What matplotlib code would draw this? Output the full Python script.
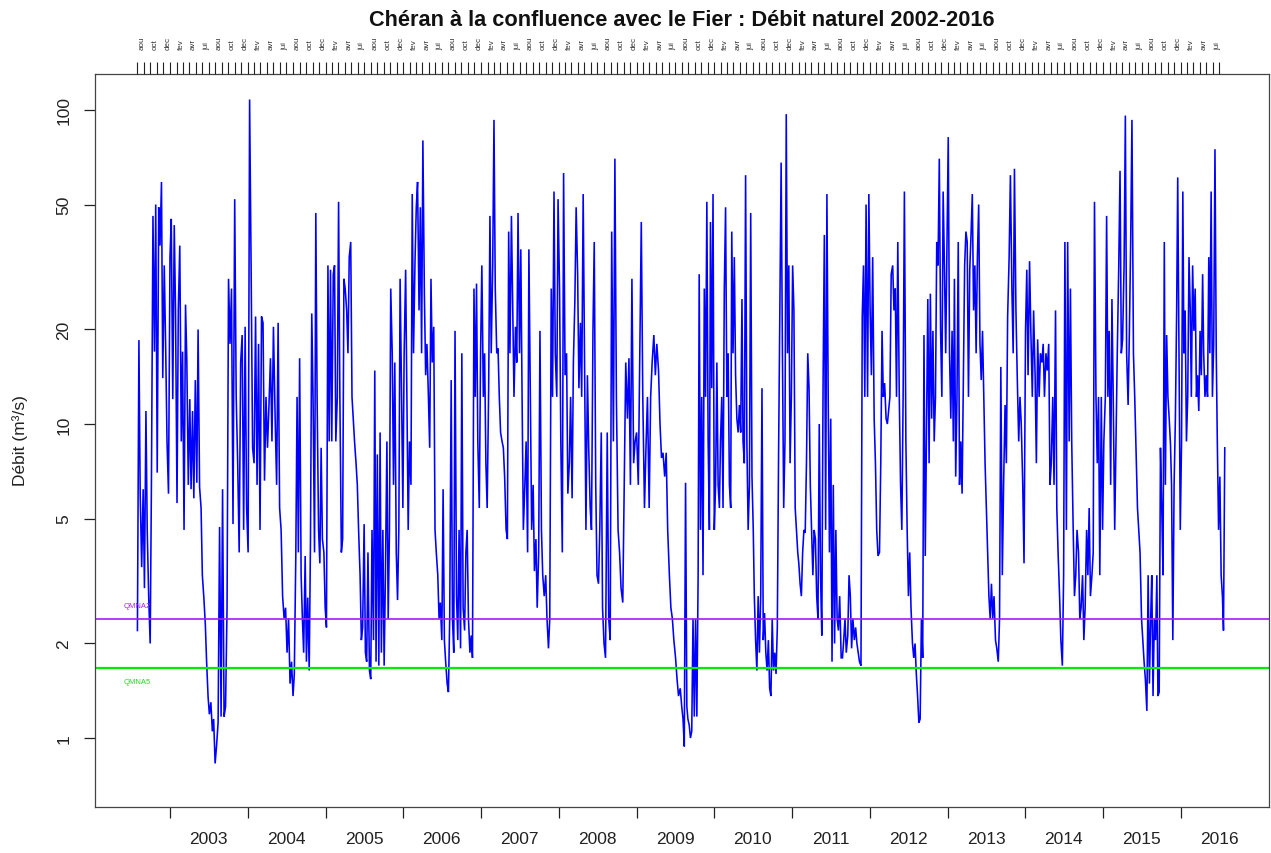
import numpy as np
import matplotlib
matplotlib.use("Agg")
import matplotlib.pyplot as plt
import matplotlib.dates as mdates

plt.rcParams['font.family'] = ['Liberation Sans', 'DejaVu Sans']

# ---------------- data ----------------
title = "Chéran à la confluence avec le Fier : Débit naturel 2002-2016"
ylabel = "Débit (m³/s)"
qmna2 = 2.39
qmna5 = 1.67
year_labels = [str(y) for y in range(2003, 2017)]
month_abbr = {8: 'aou', 10: 'oct', 12: 'dec', 2: 'fev', 4: 'avr', 6: 'jui'}
y_ticks = [1, 2, 5, 10, 20, 50, 100]

# daily flow, one list per hydrological year (Aug -> Jul)
q_2002 = [2.2, 18.5, 6.0, 3.5, 6.2, 3.0, 11.0, 4.6, 2.8, 2.0, 6.8, 46, 17, 50, 7.0, 49, 37, 59, 14, 32,
          17, 8.8, 6.0, 34, 45, 12, 43, 23, 5.6, 23, 37, 8.8, 17, 4.6, 24, 16, 6.4, 12, 6.2, 11,
          5.8, 13.8, 6.5, 20, 6.3, 5.4, 3.3, 2.8, 2.3, 1.75, 1.35, 1.19, 1.3, 1.05, 1.15]
q_2003 = [0.83, 0.95, 1.12, 4.7, 1.17, 6.2, 1.17, 1.26, 2.6, 29, 18, 27, 4.8, 52, 12.2, 7.5, 3.9, 15.7,
          19.2, 4.6, 20.4, 5.4, 3.9, 108, 32, 8.4, 7.5, 22, 6.4, 18, 4.6, 22, 21, 6.6, 12.2, 8.4, 11.5,
          16.2, 8.8, 20.4, 10.4, 6.4, 21, 5.4, 4.6, 2.83, 2.41, 2.6, 1.87, 2.41, 1.49, 1.75]
q_2004 = [1.36, 1.6, 3.8, 12.2, 3.9, 16.2, 3.3, 2.4, 1.87, 3.8, 1.75, 2.8, 1.64, 4.3, 22.5, 12.2, 3.9,
          47, 12.2, 4.6, 3.6, 8.4, 4.3, 3.9, 2.6, 2.25, 32, 8.8, 31, 8.8, 30, 32, 8.8, 12.2, 51, 12.2,
          3.9, 4.3, 29, 27, 23, 16.8, 34, 38, 12.2, 10.4, 8.8, 7.5, 6.4, 4.6, 3.3, 2.05, 2.25, 4.8,
          1.87, 1.75, 3.9, 1.64]
q_2005 = [1.54, 4.6, 2.05, 14.8, 1.75, 8.0, 1.7, 9.4, 1.87, 4.6, 1.7, 3.3, 8.8, 2.4, 4.6, 27, 16.8,
          6.4, 15.7, 3.9, 2.75, 4.6, 29, 12.2, 5.4, 16.8, 31, 12.2, 4.6, 8.8, 6.4, 54, 16.8, 33, 49, 59,
          23, 49, 16.8, 80, 26, 14.3, 18, 12.2, 8.4, 29, 15.7, 20.4, 4.6, 3.9, 3.3, 2.4, 2.7, 2.05,
          6.2, 2.05, 1.75, 1.49]
q_2006 = [1.4, 2.4, 13.8, 2.4, 1.87, 19.8, 2.83, 2.05, 4.6, 1.93, 16.8, 2.6, 2.2, 3.9, 4.6, 2.4, 1.87,
          2.12, 1.8, 27, 12.2, 28, 8.8, 5.4, 16.8, 32, 12.2, 16.8, 7.5, 5.4, 13, 46, 16.8, 32, 93, 27,
          16.8, 17.4, 12.2, 9.4, 8.8, 8.4, 6.8, 4.6, 4.3, 41, 16.8, 46, 23, 12.2, 20.4, 15.7, 47, 16.8,
          36, 12.2, 4.6, 6.4]
q_2007 = [8.8, 3.9, 36, 12.2, 4.6, 6.4, 3.4, 4.3, 2.6, 3.9, 19.8, 4.6, 3.3, 2.83, 3.3, 2.4, 1.93, 2.4,
          27, 12.2, 55, 16.8, 12.2, 52, 27, 8.8, 3.9, 63, 14.3, 16.8, 6.0, 7.5, 12.2, 5.8, 15.7, 24.8,
          49, 30, 13, 21, 12.2, 54, 16.8, 4.6, 14.3, 8.4, 5.4, 4.6, 19.8, 38, 6.4, 3.3, 3.1, 4.6, 9.4,
          2.6]
q_2008 = [2.0, 1.8, 9.4, 2.4, 2.05, 41, 8.8, 70, 12.2, 4.6, 3.9, 3.0, 2.7, 6.4, 15.7, 10.4, 16.2, 6.4,
          29, 7.5, 8.8, 9.4, 6.4, 16.8, 44, 12.2, 5.4, 8.4, 12.2, 5.4, 12.2, 15.7, 19.2, 14.3, 18, 14.8,
          10, 7.8, 8.1, 6.8, 8.1, 4.6, 3.3, 2.6, 2.4, 2.05, 1.8, 1.54, 1.36, 1.44]
q_2009 = [1.26, 1.15, 0.94, 6.5, 1.26, 1.15, 1.1, 1.0, 1.05, 2.4, 1.17, 2.4, 1.17, 3.3, 30, 4.6, 12.2,
          3.3, 27, 12.2, 51, 8.8, 4.6, 44, 13, 54, 4.6, 6.4, 15.7, 6.4, 5.4, 8.8, 12.2, 5.4, 27, 49,
          12.2, 16.8, 6.4, 5.4, 41, 16.8, 34, 14.3, 10.4, 9.4, 11.5, 9.4, 25, 8.8, 7.5, 62, 8.8, 4.6,
          6.4, 47, 6.8, 4.6, 2.83, 2.05, 1.64, 2.83]
q_2010 = [1.87, 2.83, 13, 2.05, 2.5, 1.87, 1.64, 2.05, 1.44, 1.36, 2.4, 1.64, 1.87, 1.6, 2.25, 8.1, 23,
          68, 16.8, 5.4, 8.8, 97, 16.8, 32, 7.5, 12.2, 32, 23, 5.4, 4.6, 3.9, 3.6, 3.1, 2.83, 3.9, 4.6,
          4.5, 7.5, 16.8, 13, 6.4, 4.6, 3.3, 4.6, 4.3, 2.83, 2.4, 10, 3.3, 2.12, 13.5, 40, 4.6, 54,
          12.2, 3.9, 10.4, 1.75, 6.4, 2.0, 4.6]
q_2011 = [2.4, 2.2, 2.83, 1.8, 1.8, 2.05, 2.4, 1.87, 2.12, 3.3, 2.83, 1.93, 2.4, 2.05, 2.25, 2.0, 1.87,
          1.75, 1.7, 22, 32, 12.2, 50, 12.2, 54, 23, 14.3, 34, 10.4, 7.5, 4.6, 3.8, 3.9, 7.5, 19.8,
          12.2, 13.5, 10.4, 10, 11, 12.2, 30, 32, 23, 27, 12.2, 38, 12.2, 6.4, 4.6, 12.2, 55, 8.8, 4.6,
          2.83, 3.9, 2.6, 2.0, 1.8]
q_2012 = [2.0, 1.6, 1.36, 1.12, 1.15, 2.4, 1.8, 19.2, 3.8, 10, 25, 7.5, 26, 10.4, 19.8, 8.8, 12.2, 38,
          32, 70, 19.8, 12.2, 55, 32, 16.8, 38, 82, 16.8, 10.4, 19.8, 8.8, 29, 6.8, 12.2, 38, 6.4, 8.8,
          6.0, 14.3, 32, 41, 38, 12.2, 31, 40, 54, 23, 32, 16.8, 34, 50, 18, 13.8, 19.8, 12.2, 7.5,
          5.4, 3.9, 2.83, 2.4, 3.1]
q_2013 = [2.4, 2.83, 2.05, 1.93, 1.75, 2.4, 15.2, 3.3, 6.4, 11.5, 7.5, 22, 34, 62, 27, 16.8, 65, 23,
          14.3, 8.8, 12.2, 10, 6.4, 3.6, 19.8, 31, 14.3, 33, 19.8, 12.2, 23, 14.3, 7.5, 18.6, 12.2,
          16.8, 15.7, 18, 12.2, 16.8, 14.8, 18, 6.4, 7.5, 12.2, 6.4, 23, 5.4, 3.9, 2.83, 2.05, 1.7,
          3.3, 38, 4.6, 38, 8.8]
q_2014 = [27, 8.8, 4.6, 2.83, 3.3, 4.6, 3.9, 2.4, 2.6, 3.3, 2.05, 2.6, 4.6, 3.3, 5.4, 2.83, 3.3, 3.9,
          51, 12.2, 7.5, 12.2, 3.3, 12.2, 4.6, 8.8, 12.2, 46, 12.2, 19.8, 6.4, 25, 12.2, 4.6, 8.8,
          16.8, 32, 64, 16.8, 18.6, 32, 96, 16.8, 11.5, 19.8, 38, 93, 16.8, 12.2, 8.4, 5.4, 4.6, 3.9,
          2.4, 2.05, 1.75, 1.54, 1.22]
q_2015 = [3.3, 1.49, 2.4, 3.3, 1.36, 2.4, 2.05, 3.3, 1.36, 1.4, 8.4, 5.4, 3.3, 38, 6.4, 19.2, 12.2,
          10.4, 8.6, 6.4, 2.05, 6.4, 10.4, 23, 61, 16.8, 4.6, 8.8, 55, 16.8, 23, 8.8, 12.2, 34, 23,
          12.2, 32, 19.8, 27, 12.2, 14.3, 11, 19.8, 14.3, 30, 16.8, 12.2, 14.3, 12.2, 34, 16.8, 55,
          12.2, 18, 75, 16.8, 8.8, 4.6, 6.8, 3.3, 2.83, 2.2, 8.4]

hydro_years = [2002, 2003, 2004, 2005, 2006, 2007, 2008, 2009, 2010, 2011, 2012, 2013, 2014, 2015]
yearly = [q_2002, q_2003, q_2004, q_2005, q_2006, q_2007, q_2008, q_2009, q_2010, q_2011,
          q_2012, q_2013, q_2014, q_2015]

# ---------------- build series ----------------
dates, flows = [], []
for y0, vals in zip(hydro_years, yearly):
    start = np.datetime64(f"{y0}-08-01")
    end = np.datetime64(f"{y0 + 1}-08-01")
    span = (end - start).astype(int)
    n = len(vals)
    offs = np.round(np.arange(n) * span / n).astype(int)
    dates.append(start + offs.astype('timedelta64[D]'))
    flows.extend(vals)
dates = np.concatenate(dates)
flows = np.array(flows, dtype=float)

# ---------------- figure ----------------
W, H = 1271, 854
fig = plt.figure(figsize=(W / 100, H / 100), dpi=100)
L, R, T, B = 95, 1269, 75, 808
ax = fig.add_axes([L / W, 1 - B / H, (R - L) / W, (B - T) / H])

ax.plot(dates, flows, color='#0000FF', lw=1.15, solid_joinstyle='miter')
ax.axhline(qmna2, color='#A020F0', lw=1.2)
ax.axhline(qmna5, color='#00EE00', lw=1.6)

ax.set_yscale('log')
ax.set_ylim(0.603, 130.2)
x0 = mdates.date2num(np.datetime64('2003-01-01'))
ax.set_xlim(x0 - 352.3, x0 + 5162.8)

# label texts for the reference lines
xlab = mdates.date2num(np.datetime64('2002-08-01'))
ax.text(xlab, qmna2 * 1.105, 'QMNA2', color='#A020F0', fontsize=5.5, ha='center', va='center')
ax.text(xlab, qmna5 / 1.105, 'QMNA5', color='#22DD22', fontsize=5.5, ha='center', va='center')

# y axis
ax.set_yticks(y_ticks)
ax.set_yticklabels([str(v) for v in y_ticks])
ax.yaxis.set_minor_locator(matplotlib.ticker.NullLocator())
ax.tick_params(axis='y', which='major', length=8, width=0.9, pad=9, labelsize=12.5,
               labelrotation=90, colors='#222222')
for lab in ax.get_yticklabels():
    lab.set_va('center')

# bottom x axis: ticks at year starts, labels at mid-year
year_ticks = [mdates.date2num(np.datetime64(f"{y}-01-01")) for y in range(2003, 2017)]
mid_ticks = [mdates.date2num(np.datetime64(f"{y}-07-01")) for y in range(2003, 2017)]
ax.set_xticks(year_ticks)
ax.set_xticklabels([''] * len(year_ticks))
ax.set_xticks(mid_ticks, minor=True)
ax.set_xticklabels(year_labels, minor=True)
ax.tick_params(axis='x', which='major', length=8, width=0.9, colors='#222222')
ax.tick_params(axis='x', which='minor', length=0, pad=17, labelsize=12.5, colors='#222222')

for s in ax.spines.values():
    s.set_linewidth(0.9)
    s.set_color('#444444')

# top axis: monthly ticks, labels every two months
axt = ax.twiny()
axt.set_xlim(ax.get_xlim())
months = np.arange(np.datetime64('2002-08'), np.datetime64('2016-08'), dtype='datetime64[M]')
mnum = [mdates.date2num(m.astype('datetime64[D]')) for m in months]
axt.set_xticks(mnum)
axt.set_xticklabels([''] * len(mnum))
lab_pos, lab_txt = [], []
for m, xn in zip(months, mnum):
    mo = int(str(m)[5:7])
    if mo in month_abbr:
        lab_pos.append(xn + 20)
        lab_txt.append(month_abbr[mo])
axt.set_xticks(lab_pos, minor=True)
axt.set_xticklabels(lab_txt, minor=True, rotation=90)
axt.tick_params(axis='x', which='major', length=9, width=0.8, colors='#222222')
axt.tick_params(axis='x', which='minor', length=0, pad=18, labelsize=5.8, colors='#333333')
for s in axt.spines.values():
    s.set_visible(False)

fig.text((L + R) / 2 / W, 1 - 20 / H, title, ha='center', va='center', fontsize=15.7,
         fontweight='bold', color='#111111')
fig.text(20 / W, 1 - 441 / H, ylabel, ha='center', va='center', rotation=90, fontsize=12.5,
         color='#222222')

fig.savefig('out.png', dpi=100)
